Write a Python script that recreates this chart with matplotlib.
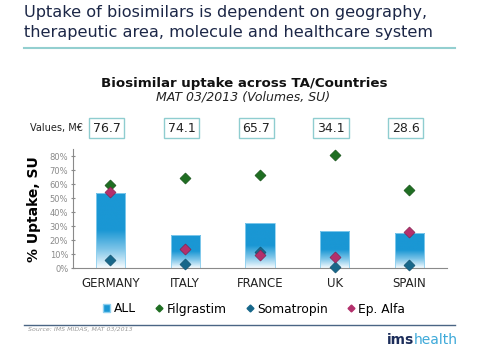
import numpy as np
import matplotlib.pyplot as plt
import matplotlib.transforms as mtransforms
from matplotlib.colors import LinearSegmentedColormap
from matplotlib.lines import Line2D
from matplotlib.patches import Patch

# dados
paises = ['GERMANY', 'ITALY', 'FRANCE', 'UK', 'SPAIN']
valores_meur = ['76.7', '74.1', '65.7', '34.1', '28.6']
all_uptake = [53.6, 23.8, 32.1, 26.4, 25.4]
filgrastim = [59.3, 64.7, 66.9, 81.2, 55.7]
somatropin = [5.9, 3.3, 11.9, 1.2, 2.6]
ep_alfa = [54.8, 13.6, 9.5, 8.3, 26.2]

azul = '#1a97d4'
verde = '#1f6e22'
azul_esc = '#17678a'
magenta = '#b3306c'

fig = plt.figure(figsize=(4.81, 3.6), dpi=100)
ax = fig.add_axes([0.152, 0.2547, 0.777, 0.3306])

x = np.arange(len(paises))
largura = 0.39
barras = ax.bar(x, all_uptake, width=largura, color='none', edgecolor='#8fd0ef', linewidth=0.6, zorder=2)

# gradiente nas barras (branco embaixo, azul solido na metade de cima)
cmap = LinearSegmentedColormap.from_list('grad', [(0, '#f6fbfe'), (0.25, '#7cc4e8'),
                                                  (0.5, azul), (1, azul)])
grad = np.linspace(0, 1, 256).reshape(-1, 1)
for b in barras:
    x0, y0 = b.get_x(), b.get_y()
    w, h = b.get_width(), b.get_height()
    im = ax.imshow(grad, cmap=cmap, extent=[x0, x0 + w, y0, y0 + h], origin='lower',
                   aspect='auto', zorder=1)
    im.set_clip_path(b)

ax.scatter(x, filgrastim, marker='D', s=32, color=verde, edgecolor='#0f4a12', linewidth=0.4, zorder=3, clip_on=False)
ax.scatter(x, somatropin, marker='D', s=32, color=azul_esc, edgecolor='#0d4a66', linewidth=0.4, zorder=4, clip_on=False)
ax.scatter(x, ep_alfa, marker='D', s=32, color=magenta, edgecolor='#7a1d48', linewidth=0.4, zorder=5, clip_on=False)

ax.set_xlim(-0.5, 4.5)
ax.set_ylim(0, 85)
ax.set_yticks(np.arange(0, 81, 10))
ax.set_yticklabels([f'{v}%' for v in range(0, 81, 10)], fontsize=6, color='#8a8a8a')
ax.set_xticks(x)
ax.set_xticklabels(paises, fontsize=8.5, color='#222222')
ax.tick_params(axis='x', length=0, pad=6)
ax.tick_params(axis='y', length=3, direction='inout', color='#8a8a8a', pad=2)
for s in ['top', 'right']:
    ax.spines[s].set_visible(False)
for s in ['left', 'bottom']:
    ax.spines[s].set_color('#8a8a8a')
    ax.spines[s].set_linewidth(0.8)
ax.set_ylabel('% Uptake, SU', fontsize=10, fontweight='bold', labelpad=6)

# titulos
fig.text(24 / 481, 1 - 13 / 360, 'Uptake of biosimilars is dependent on geography,',
         fontsize=11.6, color='#1c2747', va='center', ha='left')
fig.text(24 / 481, 1 - 33 / 360, 'therapeutic area, molecule and healthcare system',
         fontsize=11.6, color='#1c2747', va='center', ha='left')
fig.add_artist(Line2D([24 / 481, 455 / 481], [1 - 48 / 360] * 2, color='#93cfd0', lw=1.5))

fig.text(244 / 481, 1 - 83 / 360, 'Biosimilar uptake across TA/Countries', fontsize=9.6,
         fontweight='bold', ha='center', va='center', color='#111111')
fig.text(243 / 481, 1 - 97 / 360, 'MAT 03/2013 (Volumes, SU)', fontsize=9,
         style='italic', ha='center', va='center', color='#222222')

# caixas com valores (x em dados, y em figura)
fig.text(30 / 481, 1 - 128 / 360, 'Values, M€', fontsize=7, ha='left', va='center', color='#222222')
trans = mtransforms.blended_transform_factory(ax.transData, fig.transFigure)
for i, v in enumerate(valores_meur):
    ax.text(x[i] - 0.05, 1 - 128 / 360, v, transform=trans, fontsize=9, ha='center', va='center',
            color='#222222', clip_on=False,
            bbox=dict(boxstyle='square,pad=0.3', fc='white', ec='#8fcdd0', lw=1.0))

# legenda
handles = [Patch(facecolor=azul, edgecolor='#8fd0ef', label='ALL'),
           Line2D([], [], marker='D', ls='none', color=verde, markersize=3.5, label='Filgrastim'),
           Line2D([], [], marker='D', ls='none', color=azul_esc, markersize=3.5, label='Somatropin'),
           Line2D([], [], marker='D', ls='none', color=magenta, markersize=3.5, label='Ep. Alfa')]
fig.legend(handles=handles, loc='center', bbox_to_anchor=(254 / 481, 1 - 309 / 360), ncol=4,
           frameon=False, fontsize=8.8, handlelength=0.6, handletextpad=0.3, columnspacing=1.6,
           handleheight=0.6)

# rodape
fig.add_artist(Line2D([24 / 481, 455 / 481], [1 - 325 / 360] * 2, color='#4a6584', lw=1.0))
fig.text(28 / 481, 1 - 330 / 360, 'Source: IMS MIDAS, MAT 03/2013', fontsize=4.5, style='italic',
         color='#9a9a9a', ha='left', va='center')
t1 = fig.text(387 / 481, 1 - 340 / 360, 'ims', fontsize=10, fontweight='bold', color='#1c2d5a',
              ha='left', va='center')
fig.canvas.draw()
bb = t1.get_window_extent()
fig.text(bb.x1 / fig.bbox.width, 1 - 340 / 360, 'health', fontsize=10, color='#3da9d9',
         ha='left', va='center')

fig.savefig('out.png', dpi=100)
